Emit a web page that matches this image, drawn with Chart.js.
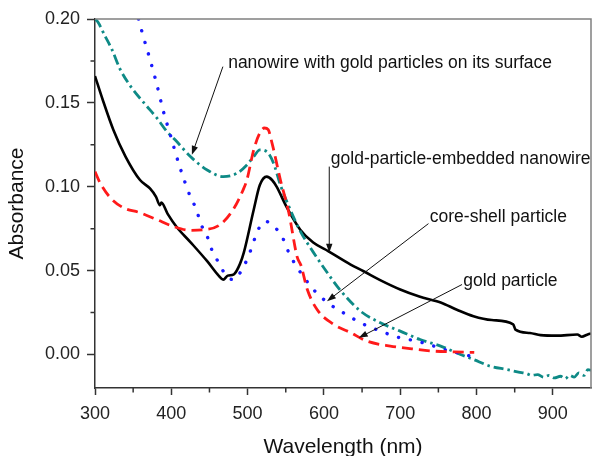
<!DOCTYPE html>
<html>
<head>
<meta charset="utf-8">
<script src="https://cdn.jsdelivr.net/npm/chart.js@4.4.1/dist/chart.umd.min.js"></script>
<style>
html, body { margin: 0; padding: 0; background: #fff; }
#wrap { width: 592px; height: 456px; }
</style>
</head>
<body>
<div id="wrap"><canvas id="absChart" width="592" height="456"></canvas></div>
<script>
// gold-particle-embedded nanowire (black, solid)
const embedded_wl = [300, 310, 324, 340, 359, 372, 380, 385, 387, 395, 407, 425, 447, 462, 468, 474, 482, 490, 495, 508, 516, 525, 532, 538, 551, 569, 586, 606, 635, 652, 675, 700, 725, 753, 775, 796, 820, 848, 851, 870, 884, 905, 932, 938, 945, 950];
const embedded_abs = [0.166, 0.152, 0.134, 0.118, 0.104, 0.099, 0.094, 0.089, 0.0905, 0.084, 0.076, 0.067, 0.0556, 0.047, 0.0446, 0.047, 0.0478, 0.054, 0.0607, 0.0863, 0.101, 0.106, 0.104, 0.100, 0.088, 0.0744, 0.0667, 0.0615, 0.0536, 0.0496, 0.0440, 0.0387, 0.0345, 0.031, 0.0265, 0.0228, 0.0205, 0.0180, 0.0148, 0.0128, 0.0115, 0.0112, 0.0119, 0.0106, 0.0118, 0.0125];

// gold particle (red, dashed)
const gold_wl = [300, 307, 320, 337, 359, 381, 402, 425, 444, 464, 481, 494, 499, 508, 516, 522, 527, 532, 543, 554, 565, 570, 578, 591, 613, 635, 656, 687, 722, 744, 770, 797];
const gold_abs = [0.109, 0.102, 0.0935, 0.0875, 0.0845, 0.0804, 0.0764, 0.074, 0.0744, 0.0774, 0.0863, 0.098, 0.104, 0.122, 0.132, 0.135, 0.134, 0.126, 0.104, 0.0845, 0.058, 0.053, 0.039, 0.0268, 0.0179, 0.013, 0.008, 0.005, 0.003, 0.002, 0.0015, 0.0012];

// core-shell particle (blue, dotted)
const shell_wl = [357, 363, 372, 381, 389, 398, 411, 425, 433, 438, 447, 453, 462, 471, 481, 495, 506, 512, 523, 536, 545, 554, 565, 573, 584, 595, 608, 622, 648, 674, 700, 722, 744, 757, 775, 792];
const shell_abs = [0.200, 0.190, 0.176, 0.161, 0.146, 0.132, 0.112, 0.094, 0.0863, 0.0786, 0.0704, 0.0625, 0.0548, 0.0476, 0.0446, 0.0526, 0.0645, 0.0726, 0.0794, 0.0756, 0.0704, 0.0607, 0.0518, 0.0466, 0.0399, 0.0347, 0.0298, 0.0258, 0.0189, 0.0139, 0.0099, 0.0079, 0.005, 0.003, 0.001, -0.001];

// nanowire with gold particles on its surface (teal, dash-dot)
const surface_wl = [300, 304, 313, 322, 333, 348, 366, 381, 394, 405, 425, 447, 468, 486, 499, 508, 516, 525, 534, 543, 554, 569, 586, 604, 622, 648, 674, 700, 726, 753, 779, 796, 818, 840, 855, 866, 872, 880, 888, 895, 902, 910, 916, 922, 928, 934, 941, 946, 950];
const surface_abs = [0.200, 0.198, 0.190, 0.182, 0.170, 0.159, 0.149, 0.141, 0.133, 0.128, 0.118, 0.110, 0.106, 0.108, 0.113, 0.118, 0.122, 0.121, 0.114, 0.101, 0.0883, 0.0735, 0.061, 0.049, 0.038, 0.0258, 0.0189, 0.0139, 0.0089, 0.005, 0.0, -0.003, -0.007, -0.009, -0.0105, -0.0115, -0.0125, -0.012, -0.0135, -0.0125, -0.014, -0.013, -0.0145, -0.0125, -0.0135, -0.011, -0.0125, -0.009, -0.0095];

const x_ticks = [300, 400, 500, 600, 700, 800, 900];
const x_minor = [350, 450, 550, 650, 750, 850];
const y_ticks = [0.00, 0.05, 0.10, 0.15, 0.20];
const y_minor = [0.025, 0.075, 0.125, 0.175];

// annotation labels: text anchor and arrow (tail -> head), in data units
const note_text = ['nanowire with gold particles on its surface', 'gold-particle-embedded nanowire', 'core-shell particle', 'gold particle'];
const note_at = [[474.5, 0.1738], [609, 0.1165], [738.7, 0.082], [782.5, 0.0436]];
const note_from = [[467.6, 0.1716], [607, 0.112], [737, 0.078], [781, 0.0417]];
const note_to = [[427, 0.119], [607, 0.0607], [604, 0.0317], [645.6, 0.0099]];

const font_family = 'Arial, "Liberation Sans", Helvetica, sans-serif';

function pairs(xs, ys) {
    return xs.map(function (x, i) { return { x: x, y: ys[i] }; });
}

function drawArrow(ctx, x0, y0, x1, y1) {
    const ang = Math.atan2(y1 - y0, x1 - x0);
    const len = 9, half = 3.2;
    ctx.beginPath();
    ctx.moveTo(x0, y0);
    ctx.lineTo(x1 - Math.cos(ang) * len * 0.8, y1 - Math.sin(ang) * len * 0.8);
    ctx.stroke();
    ctx.beginPath();
    ctx.moveTo(x1, y1);
    ctx.lineTo(x1 - Math.cos(ang) * len - Math.sin(ang) * half, y1 - Math.sin(ang) * len + Math.cos(ang) * half);
    ctx.lineTo(x1 - Math.cos(ang) * len + Math.sin(ang) * half, y1 - Math.sin(ang) * len - Math.cos(ang) * half);
    ctx.closePath();
    ctx.fill();
}

const decorations = {
    id: 'decorations',
    afterDraw(chart) {
        const ctx = chart.ctx;
        const a = chart.chartArea;
        const xs = chart.scales.x, ys = chart.scales.y;
        ctx.save();
        // top and right frame
        ctx.strokeStyle = '#808080';
        ctx.lineWidth = 1.5;
        ctx.beginPath();
        ctx.moveTo(a.left, a.top);
        ctx.lineTo(a.right, a.top);
        ctx.lineTo(a.right, a.bottom);
        ctx.stroke();
        // minor ticks
        ctx.strokeStyle = '#333';
        ctx.lineWidth = 1.5;
        ctx.beginPath();
        x_minor.forEach(function (v) {
            const px = xs.getPixelForValue(v);
            ctx.moveTo(px, a.bottom);
            ctx.lineTo(px, a.bottom + 4.5);
        });
        y_minor.forEach(function (v) {
            const py = ys.getPixelForValue(v);
            ctx.moveTo(a.left, py);
            ctx.lineTo(a.left - 4.5, py);
        });
        ctx.stroke();
        // annotations
        ctx.fillStyle = '#111';
        ctx.strokeStyle = '#111';
        ctx.lineWidth = 1;
        ctx.font = '17.5px ' + font_family;
        ctx.textAlign = 'left';
        ctx.textBaseline = 'middle';
        for (let i = 0; i < note_text.length; i++) {
            ctx.fillText(note_text[i], xs.getPixelForValue(note_at[i][0]), ys.getPixelForValue(note_at[i][1]));
            drawArrow(ctx,
                xs.getPixelForValue(note_from[i][0]), ys.getPixelForValue(note_from[i][1]),
                xs.getPixelForValue(note_to[i][0]), ys.getPixelForValue(note_to[i][1]));
        }
        ctx.restore();
    }
};

new Chart('absChart', {
    type: 'line',
    data: {
        datasets: [{
            label: 'gold particle',
            data: pairs(gold_wl, gold_abs),
            borderColor: '#ff1a1a',
            borderWidth: 2.8,
            borderDash: [11, 6],
            cubicInterpolationMode: 'monotone'
        },
        {
            label: 'core-shell particle',
            data: pairs(shell_wl, shell_abs),
            borderColor: '#1a1aff',
            borderWidth: 3.4,
            borderDash: [0.1, 12],
            borderCapStyle: 'round',
            cubicInterpolationMode: 'monotone'
        },
        {
            label: 'nanowire with gold particles on its surface',
            data: pairs(surface_wl, surface_abs),
            borderColor: '#0e8a86',
            borderWidth: 2.8,
            borderDash: [10, 4, 2.5, 4],
            cubicInterpolationMode: 'monotone'
        },
        {
            label: 'gold-particle-embedded nanowire',
            data: pairs(embedded_wl, embedded_abs),
            borderColor: '#000',
            borderWidth: 2.6,
            cubicInterpolationMode: 'monotone'
        }]
    },
    options: {
        responsive: false,
        animation: false,
        events: [],
        elements: { point: { radius: 0 } },
        layout: { padding: { top: 19, right: 1, left: 0, bottom: 0 } },
        scales: {
            x: {
                type: 'linear',
                min: 300,
                max: 950,
                afterBuildTicks: function (scale) { scale.ticks = x_ticks.map(function (v) { return { value: v }; }); },
                afterFit: function (scale) { scale.height = 68; },
                border: { display: true, color: '#333', width: 1.5 },
                grid: { drawOnChartArea: false, drawTicks: true, tickLength: 7, tickColor: '#333', tickWidth: 1.5 },
                ticks: { color: '#222', padding: 8, maxRotation: 0, font: { family: font_family, size: 18 } },
                title: { display: true, text: 'Wavelength (nm)', color: '#111', padding: { top: 0, bottom: 0 }, font: { family: font_family, size: 21, lineHeight: 0.8 } }
            },
            y: {
                type: 'linear',
                min: -0.02,
                max: 0.20,
                afterBuildTicks: function (scale) { scale.ticks = y_ticks.map(function (v) { return { value: v }; }); },
                afterFit: function (scale) { scale.width = 95; },
                border: { display: true, color: '#333', width: 1.5 },
                grid: { drawOnChartArea: false, drawTicks: true, tickLength: 8, tickColor: '#333', tickWidth: 1.5 },
                ticks: { color: '#222', padding: 7, font: { family: font_family, size: 18 }, callback: function (v) { return v.toFixed(2); } },
                title: { display: true, text: 'Absorbance', color: '#111', padding: { top: 7, bottom: 0 }, font: { family: font_family, size: 21, lineHeight: 1 } }
            }
        },
        plugins: {
            legend: { display: false },
            tooltip: { enabled: false }
        }
    },
    plugins: [decorations]
});
</script>
</body>
</html>
